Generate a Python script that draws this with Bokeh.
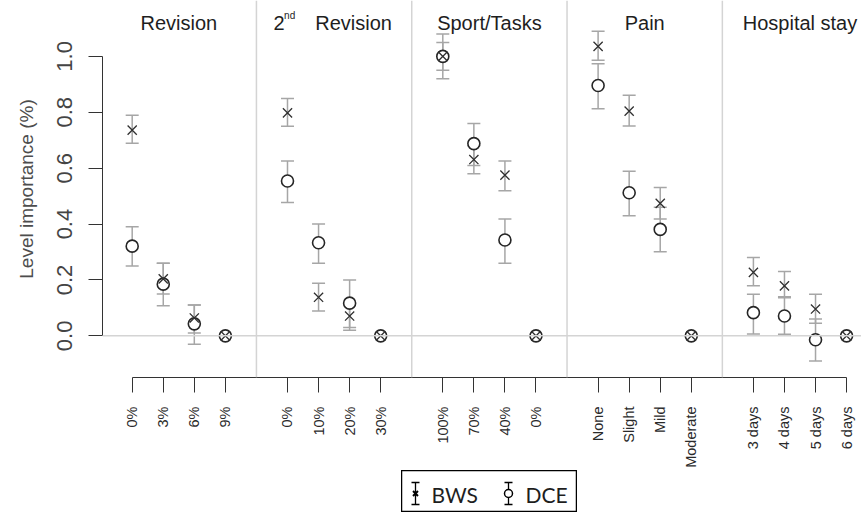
import math
from bokeh.plotting import figure
from bokeh.models import (Range1d, FixedTicker, Whisker, ColumnDataSource, TeeHead,
                          Span, Spacer, NumeralTickFormatter)
from bokeh.layouts import column, row
from bokeh.core.properties import value
from bokeh.embed import file_html
from bokeh.resources import INLINE

# ---------------- data ----------------
groups = ["Revision", "2nd Revision", "Sport/Tasks", "Pain", "Hospital stay"]
levels = [["0%", "3%", "6%", "9%"],
          ["0%", "10%", "20%", "30%"],
          ["100%", "70%", "40%", "0%"],
          ["None", "Slight", "Mild", "Moderate"],
          ["3 days", "4 days", "5 days", "6 days"]]

bws = [0.736, 0.204, 0.064, 0.0,
       0.798, 0.138, 0.071, 0.0,
       1.000, 0.631, 0.575, 0.0,
       1.036, 0.804, 0.474, 0.0,
       0.227, 0.179, 0.096, 0.0]
bws_lo = [0.689, 0.150, 0.010, 0.0,
          0.750, 0.089, 0.020, 0.0,
          0.950, 0.580, 0.519, 0.0,
          0.986, 0.751, 0.418, 0.0,
          0.179, 0.140, 0.045, 0.0]
bws_hi = [0.789, 0.260, 0.110, 0.0,
          0.849, 0.188, 0.120, 0.0,
          1.050, 0.680, 0.626, 0.0,
          1.090, 0.861, 0.531, 0.0,
          0.280, 0.230, 0.149, 0.0]

dce = [0.321, 0.185, 0.043, 0.0,
       0.554, 0.333, 0.117, 0.0,
       1.000, 0.688, 0.343, 0.0,
       0.896, 0.512, 0.381, 0.0,
       0.083, 0.071, -0.014, 0.0]
dce_lo = [0.250, 0.108, -0.030, 0.0,
          0.477, 0.260, 0.030, 0.0,
          0.920, 0.610, 0.260, 0.0,
          0.813, 0.430, 0.301, 0.0,
          0.007, 0.006, -0.090, 0.0]
dce_hi = [0.390, 0.260, 0.110, 0.0,
          0.626, 0.400, 0.200, 0.0,
          1.080, 0.760, 0.418, 0.0,
          0.974, 0.589, 0.460, 0.0,
          0.149, 0.136, 0.060, 0.0]

y_ticks = [0.0, 0.2, 0.4, 0.6, 0.8, 1.0]
legend_labels = ["BWS", "DCE"]

# ---------------- layout helpers ----------------
pos = [g * 5 + i + 1 for g in range(len(groups)) for i in range(4)]
labels = [lab for grp in levels for lab in grp]
seps = [g * 5 for g in range(1, len(groups))]
centers = [sum(pos[g * 4:(g + 1) * 4]) / 4 for g in range(len(groups))]

FONT = "Liberation Sans"
p = figure(width=861, height=470,
           x_range=Range1d(0.044, 24.48), y_range=Range1d(-0.149, 1.2),
           output_backend="svg", toolbar_location=None,
           min_border_left=102, min_border_right=0, min_border_top=0, min_border_bottom=92)
p.outline_line_color = None
p.xgrid.visible = False
p.ygrid.visible = False

# separators and zero line
for s in seps:
    p.add_layout(Span(location=s, dimension="height", line_color="#d4d4d4", line_width=1.5))
p.add_layout(Span(location=0, dimension="width", line_color="#d4d4d4", line_width=1.5))

# error bars
src_b = ColumnDataSource(dict(x=pos, y=bws, lo=bws_lo, hi=bws_hi))
src_d = ColumnDataSource(dict(x=pos, y=dce, lo=dce_lo, hi=dce_hi))
EB = "#a6a6a6"
for src in (src_d, src_b):
    w = Whisker(source=src, base="x", lower="lo", upper="hi",
                line_color=EB, line_width=1.5, level="underlay",
                upper_head=TeeHead(size=13, line_color=EB, line_width=1.5),
                lower_head=TeeHead(size=13, line_color=EB, line_width=1.5))
    p.add_layout(w)

# points
p.scatter("x", "y", source=src_d, marker="circle", size=12, fill_color="white",
          line_color="#262626", line_width=1.6)
p.scatter("x", "y", source=src_b, marker="x", size=13, line_color="#303030", line_width=1.3)

# group titles
TITLE_Y = 1.12
tsrc = ColumnDataSource(dict(x=[centers[0], centers[2], centers[3], centers[4]],
                             y=[TITLE_Y] * 4,
                             t=[groups[0], groups[2], groups[3], groups[4]]))
p.text("x", "y", text="t", source=tsrc, text_align="center", text_baseline="middle",
       text_font=value(FONT), text_font_size="20px", text_color="#1e1e1e")
# "2nd Revision" with superscript
p.text(x=[centers[1]], y=[TITLE_Y], text=["Revision"], x_offset=19.5,
       text_align="center", text_baseline="middle",
       text_font=value(FONT), text_font_size="20px", text_color="#1e1e1e")
p.text(x=[centers[1]], y=[TITLE_Y], text=["2"], x_offset=-55,
       text_align="center", text_baseline="middle",
       text_font=value(FONT), text_font_size="20px", text_color="#1e1e1e")
p.text(x=[centers[1]], y=[TITLE_Y], text=["nd"], x_offset=-50, y_offset=-7,
       text_align="left", text_baseline="middle",
       text_font=value(FONT), text_font_size="10px", text_color="#1e1e1e")

# axes
xa = p.xaxis[0]
xa.ticker = FixedTicker(ticks=pos)
xa.major_label_overrides = {k: v for k, v in zip(pos, labels)}
xa.bounds = (1, 24)
xa.major_label_orientation = math.pi / 2
xa.major_tick_out = 15
xa.major_tick_in = 0
xa.minor_tick_out = 0
xa.minor_tick_in = 0
xa.major_label_standoff = 14
xa.major_label_text_font = FONT
xa.major_label_text_font_size = "14.5px"
xa.major_label_text_color = "#2a2a2a"
xa.axis_line_color = "#333333"
xa.major_tick_line_color = "#333333"

ya = p.yaxis[0]
ya.ticker = FixedTicker(ticks=y_ticks)
ya.formatter = NumeralTickFormatter(format="0.0")
ya.bounds = (0, 1)
ya.major_label_orientation = "parallel"
ya.major_tick_out = 14
ya.major_tick_in = 0
ya.minor_tick_out = 0
ya.minor_tick_in = 0
ya.major_label_standoff = 16
ya.major_label_text_font = FONT
ya.major_label_text_font_size = "22px"
ya.major_label_text_color = "#444444"
ya.axis_line_color = "#333333"
ya.major_tick_line_color = "#333333"
ya.axis_label = "Level importance (%)"
ya.axis_label_text_font = FONT
ya.axis_label_text_font_size = "19px"
ya.axis_label_text_font_style = "normal"
ya.axis_label_text_color = "#4d4d4d"
ya.axis_label_standoff = 18

# ---------------- legend (small panel) ----------------
leg = figure(width=176, height=42, x_range=Range1d(0, 176), y_range=Range1d(42, 0),
             output_backend="svg", toolbar_location=None,
             x_axis_type=None, y_axis_type=None,
             min_border_left=0, min_border_right=0, min_border_top=0, min_border_bottom=0)
leg.xgrid.visible = False
leg.ygrid.visible = False
leg.outline_line_color = "black"
leg.outline_line_width = 1.5
icon_x = [14, 107]
for ix in icon_x:
    leg.segment(x0=[ix], y0=[12], x1=[ix], y1=[34], line_color="black", line_width=1.3)
    leg.segment(x0=[ix - 4], y0=[12], x1=[ix + 4], y1=[12], line_color="black", line_width=1.3)
    leg.segment(x0=[ix - 4], y0=[34], x1=[ix + 4], y1=[34], line_color="black", line_width=1.3)
leg.scatter(x=[icon_x[0]], y=[23], marker="x", size=7, line_color="black", line_width=2)
leg.scatter(x=[icon_x[1]], y=[23], marker="circle", size=8, fill_color="white",
            line_color="black", line_width=1.5)
leg.text(x=[icon_x[0] + 16, icon_x[1] + 17], y=[24, 24], text=legend_labels,
         text_align="left", text_baseline="middle",
         text_font=value("Lato"), text_font_size="21px", text_color="#1e1e1e")

layout = column(p, row(Spacer(width=401, height=42), leg))
open("out.html", "w").write(file_html(layout, INLINE))
